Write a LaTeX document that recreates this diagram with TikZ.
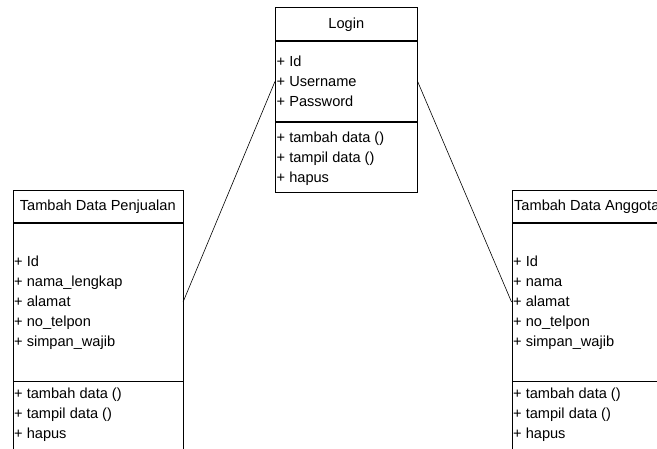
\documentclass[tikz,border=0pt]{standalone}
\usepackage{fontspec}
\setmainfont{Liberation Sans}
\usetikzlibrary{positioning}

\begin{document}
\begin{tikzpicture}[x=1pt,y=-1pt,
		every node/.style={font=\fontsize{14.6}{16}\selectfont},
		box/.style={draw,rectangle,line width=0.6pt,inner sep=0pt,anchor=north west},
		field/.style={anchor=base west,inner sep=0pt},
		node distance=0pt]
	\useasboundingbox (0,0) rectangle (657,449);
	\clip (0,0) rectangle (657,449);

	% Login
	\node[box,minimum width=142,minimum height=33] (login) at (275,7.5) {Login};
	\node[box,minimum width=142,minimum height=80,below=of login] (login-attr) {};
	\node[box,minimum width=142,minimum height=70,below=of login-attr] (login-meth) {};
	\foreach \t [count=\i] in {{+ Id},{+ Username},{+ Password}}{
			\node[field] (login-a\i) at ([shift={(1.5,{5.3+20*\i})}]login-attr.north west) {\t};
		}
	\foreach \t [count=\i] in {{+ tambah data ()},{+ tampil data ()},{+ hapus}}{
			\node[field] (login-m\i) at ([shift={(1.5,{0.5+20*\i})}]login-meth.north west) {\t};
		}

	% Tambah Data Penjualan
	\node[box,minimum width=170,minimum height=32] (penj) at (12.5,190) {Tambah Data Penjualan};
	\node[box,minimum width=170,minimum height=158,below=of penj] (penj-attr) {};
	\node[box,minimum width=170,minimum height=90,below=of penj-attr] (penj-meth) {};
	\foreach \t [count=\i] in {{+ Id},{+ nama\_lengkap},{+ alamat},{+ no\_telpon},{+ simpan\_wajib}}{
			\node[field] (penj-a\i) at ([shift={(1.5,{24+20*\i})}]penj-attr.north west) {\t};
		}
	\foreach \t [count=\i] in {{+ tambah data ()},{+ tampil data ()},{+ hapus}}{
			\node[field] (penj-m\i) at ([shift={(1.5,{-3+20*\i})}]penj-meth.north west) {\t};
		}

	% Tambah Data Anggota
	\node[box,minimum width=150,minimum height=32] (angg) at (511.5,190) {Tambah Data Anggota};
	\node[box,minimum width=150,minimum height=158,below=of angg] (angg-attr) {};
	\node[box,minimum width=150,minimum height=90,below=of angg-attr] (angg-meth) {};
	\foreach \t [count=\i] in {{+ Id},{+ nama},{+ alamat},{+ no\_telpon},{+ simpan\_wajib}}{
			\node[field] (angg-a\i) at ([shift={(1.5,{24+20*\i})}]angg-attr.north west) {\t};
		}
	\foreach \t [count=\i] in {{+ tambah data ()},{+ tampil data ()},{+ hapus}}{
			\node[field] (angg-m\i) at ([shift={(1.5,{-3+20*\i})}]angg-meth.north west) {\t};
		}

	% relasi
	\draw[line width=0.6pt] (login-attr.west) -- (penj-attr.east);
	\draw[line width=0.6pt] (login-attr.east) -- (angg-attr.west);
\end{tikzpicture}
\end{document}
